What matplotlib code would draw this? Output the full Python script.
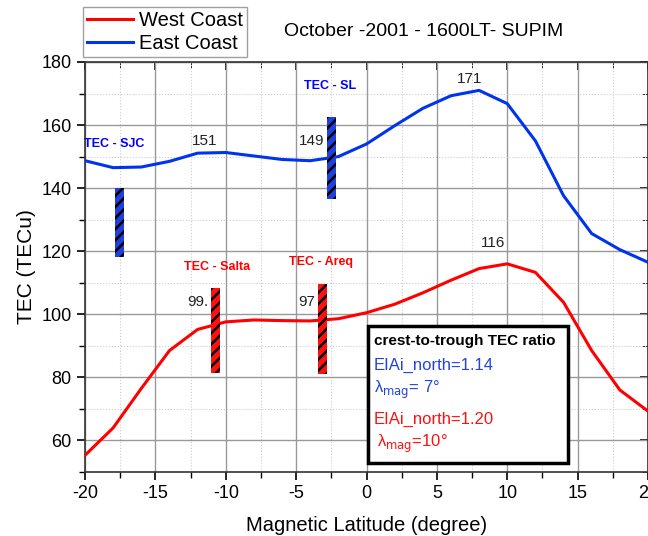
import numpy as np
import matplotlib
matplotlib.use("Agg")
import matplotlib.pyplot as plt
from matplotlib.patches import Rectangle

plt.rcParams['font.family'] = ['Liberation Sans', 'DejaVu Sans']
plt.rcParams['hatch.linewidth'] = 1.8
plt.rcParams['axes.unicode_minus'] = False

# magnetic latitude (degree) and SUPIM TEC (TECu)
lat = np.arange(-20, 21, 2)
west = [55.3, 64.0, 76.5, 88.5, 95.2, 97.6, 98.2, 98.0, 97.9, 98.6, 100.5,
        103.2, 106.8, 110.8, 114.5, 116.0, 113.3, 103.8, 88.5, 76.0, 69.3]
east = [148.7, 146.5, 146.7, 148.5, 151.1, 151.3, 150.2, 149.1, 148.7, 150.0, 154.0,
        159.8, 165.3, 169.3, 171.0, 166.8, 155.0, 137.6, 125.6, 120.5, 116.5]

# observed TEC ranges (hatched bars)
bar_x = [-17.55, -2.5, -10.75, -3.15]
bar_lo = [118.2, 136.6, 81.5, 81.0]
bar_hi = [140.0, 162.5, 108.2, 109.5]
bar_col = ['#1f3fe0', '#1f3fe0', '#ff1010', '#ff1010']

stations = [('TEC - SJC', -17.9, 154.0, 'blue'), ('TEC - SL', -2.6, 172.5, 'blue'),
            ('TEC - Salta', -10.6, 115.0, 'red'), ('TEC - Areq', -3.2, 116.5, 'red')]
peaks = [('151', -11.5, 155.0), ('149', -3.9, 155.0), ('171', 7.3, 174.7),
         ('116', 9.0, 122.6), ('99.', -12.0, 104.0), ('97', -4.25, 104.0)]

fig = plt.figure(figsize=(6.48, 5.36), dpi=100)
ax = fig.add_axes([85/648, 64/536, 563/648, 410/536])

ax.plot(lat, west, color='#ff0000', lw=2.2, label='West Coast', zorder=4)
ax.plot(lat, east, color='#0033ee', lw=2.2, label='East Coast', zorder=4)

for x, lo, hi, c in zip(bar_x, bar_lo, bar_hi, bar_col):
    ax.add_patch(Rectangle((x - 0.32, lo), 0.64, hi - lo, facecolor=c,
                           edgecolor='black', hatch='///', lw=0, zorder=5))

for s, x, y, c in stations:
    ax.text(x, y, s, color=c, fontsize=9, fontweight='bold', ha='center', va='center')
for s, x, y in peaks:
    ax.text(x, y, s, color='#222222', fontsize=11, ha='center', va='center')

# ratio box
ax.add_patch(Rectangle((0.1, 53.0), 14.2, 43.2, facecolor='white', edgecolor='black',
                       lw=2.5, zorder=6))
ax.text(0.5, 91.6, 'crest-to-trough TEC ratio', fontsize=11, fontweight='bold',
        va='center', zorder=7)
ax.text(0.5, 83.8, 'EIAi_north=1.14', color='#2244dd', fontsize=12, va='center', zorder=7)
ax.text(0.5, 76.0, 'λ$_{\\rm mag}$= 7°', color='#2244dd', fontsize=12, va='center', zorder=7)
ax.text(0.5, 66.8, 'EIAi_north=1.20', color='#ff1010', fontsize=12, va='center', zorder=7)
ax.text(0.75, 58.8, 'λ$_{\\rm mag}$=10°', color='#ff1010', fontsize=12, va='center', zorder=7)

ax.set_xlim(-20, 20)
ax.set_ylim(50, 180)
ax.set_xticks(np.arange(-20, 21, 5))
ax.set_xticks(np.arange(-20, 21, 2.5), minor=True)
ax.set_yticks(np.arange(60, 181, 20))
ax.set_yticks(np.arange(50, 181, 10), minor=True)
ax.grid(which='major', color='#999999', lw=1.0)
ax.grid(which='minor', color='#cccccc', lw=0.8, ls=':')
ax.set_axisbelow(True)
ax.tick_params(which='major', direction='out', length=6, labelsize=13, width=1.2)
ax.tick_params(which='minor', direction='out', length=4, width=1.0)
for sp in ax.spines.values():
    sp.set_linewidth(1.2)
    sp.set_color('#333333')

top = ax.secondary_xaxis('top')
top.set_xticks(np.arange(-20, 21, 5))
top.set_xticks(np.arange(-20, 21, 2.5), minor=True)
top.tick_params(which='both', direction='in', labeltop=False)
top.tick_params(which='major', length=6, width=1.2)
top.tick_params(which='minor', length=4)
right = ax.secondary_yaxis('right')
right.set_yticks(np.arange(60, 181, 20))
right.set_yticks(np.arange(50, 181, 10), minor=True)
right.tick_params(which='both', direction='in', labelright=False)
right.tick_params(which='major', length=6, width=1.2)
right.tick_params(which='minor', length=4)

ax.set_xlabel('Magnetic Latitude (degree)', fontsize=14.5, labelpad=10)
ax.set_ylabel('TEC (TECu)', fontsize=15, labelpad=4)

fig.text(424/648, 1 - 31/536, 'October -2001 - 1600LT- SUPIM', fontsize=14,
         ha='center', va='center')
fig.legend(loc='upper left', bbox_to_anchor=(83/648, 1 - 7/536), fontsize=14.5,
           frameon=True, fancybox=False, edgecolor='#888888', handlelength=2.3,
           borderpad=0.2, labelspacing=0.2, handletextpad=0.3, borderaxespad=0)

fig.savefig('out.png', dpi=100)
